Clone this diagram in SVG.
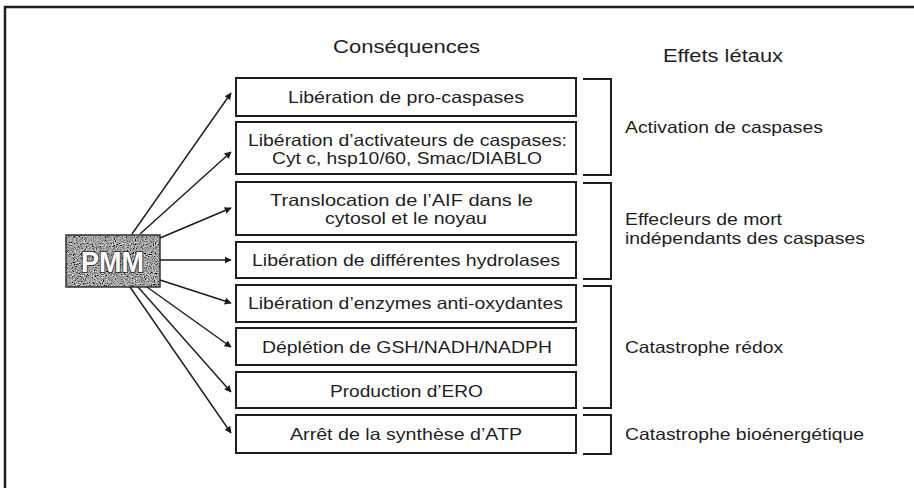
<svg xmlns="http://www.w3.org/2000/svg" width="914" height="488" viewBox="0 0 914 488">
<style>
  text { font-family: "Liberation Sans", Arial, sans-serif; fill: #1e1e1e; }
  .h { font-size: 19px; }
  .t { font-size: 16.5px; }
  .box { fill: #ffffff; stroke: #1e1e1e; stroke-width: 2; }
  .br { fill: none; stroke: #1e1e1e; stroke-width: 2; }
  .arr { stroke: #1a1a1a; stroke-width: 1.4; fill: none; marker-end: url(#ah); }
  text.pmm { font-family: "Liberation Sans", "DejaVu Sans", Arial, sans-serif; font-size: 30px; font-weight: 700; fill: #ffffff; stroke: #3a3a3a; stroke-width: 2; paint-order: stroke; }
</style>
<defs>
  <marker id="ah" viewBox="0 0 10 10" refX="9" refY="5" markerWidth="7" markerHeight="7" markerUnits="userSpaceOnUse" orient="auto">
    <path d="M0,0 L10,5 L0,10 z" fill="#1a1a1a"/>
  </marker>
  <filter id="grain" x="0" y="0" width="100%" height="100%">
    <feTurbulence type="fractalNoise" baseFrequency="0.9" numOctaves="2" seed="4" result="n"/>
    <feColorMatrix in="n" type="saturate" values="0" result="g"/>
    <feComponentTransfer in="g" result="c">
      <feFuncR type="linear" slope="2" intercept="-0.65"/>
      <feFuncG type="linear" slope="2" intercept="-0.65"/>
      <feFuncB type="linear" slope="2" intercept="-0.65"/>
      <feFuncA type="table" tableValues="1 1"/>
    </feComponentTransfer>
    <feComposite in="c" in2="SourceGraphic" operator="in"/>
  </filter>
</defs>
<rect width="914" height="488" fill="#ffffff"/>
<rect x="5" y="7" width="930" height="510" fill="none" stroke="#1e1e1e" stroke-width="2.5"/>

<g id="headers">
  <text class="h" x="333" y="53" textLength="147" lengthAdjust="spacingAndGlyphs">Conséquences</text>
  <text class="h" x="663" y="62" textLength="120" lengthAdjust="spacingAndGlyphs">Effets létaux</text>
</g>

<g id="pmm">
  <rect x="66" y="235" width="94" height="52" fill="#6a6a6a" filter="url(#grain)"/>
  <rect x="66" y="235" width="94" height="52" fill="none" stroke="#333" stroke-width="1.5"/>
  <text class="pmm" x="81" y="272" textLength="63" lengthAdjust="spacingAndGlyphs">PMM</text>
</g>

<g id="box1"><rect class="box" x="236" y="78" width="340" height="38"/>
  <text class="t" x="288" y="103" textLength="236" lengthAdjust="spacingAndGlyphs">Libération de pro-caspases</text></g>
<g id="box2"><rect class="box" x="236" y="122" width="340" height="52"/>
  <text class="t" x="248" y="146" textLength="319" lengthAdjust="spacingAndGlyphs">Libération d’activateurs de caspases:</text>
  <text class="t" x="272" y="164" textLength="270" lengthAdjust="spacingAndGlyphs">Cyt c, hsp10/60, Smac/DIABLO</text></g>
<g id="box3"><rect class="box" x="236" y="182" width="340" height="53"/>
  <text class="t" x="270" y="206" textLength="263" lengthAdjust="spacingAndGlyphs">Translocation de l’AIF dans le</text>
  <text class="t" x="325" y="224" textLength="162" lengthAdjust="spacingAndGlyphs">cytosol et le noyau</text></g>
<g id="box4"><rect class="box" x="236" y="242" width="340" height="36"/>
  <text class="t" x="252" y="266" textLength="308" lengthAdjust="spacingAndGlyphs">Libération de différentes hydrolases</text></g>
<g id="box5"><rect class="box" x="236" y="285" width="340" height="37"/>
  <text class="t" x="248" y="309" textLength="315" lengthAdjust="spacingAndGlyphs">Libération d’enzymes anti-oxydantes</text></g>
<g id="box6"><rect class="box" x="236" y="328" width="340" height="37"/>
  <text class="t" x="262" y="353" textLength="290" lengthAdjust="spacingAndGlyphs">Déplétion de GSH/NADH/NADPH</text></g>
<g id="box7"><rect class="box" x="236" y="372" width="340" height="36"/>
  <text class="t" x="330" y="397" textLength="153" lengthAdjust="spacingAndGlyphs">Production d’ERO</text></g>
<g id="box8"><rect class="box" x="236" y="415" width="340" height="38"/>
  <text class="t" x="290" y="440" textLength="232" lengthAdjust="spacingAndGlyphs">Arrêt de la synthèse d’ATP</text></g>

<g id="brackets">
  <path class="br" d="M583,79 H611 V175 H583"/>
  <path class="br" d="M583,183 H611 V279 H583"/>
  <path class="br" d="M583,286 H611 V408 H583"/>
  <path class="br" d="M583,415 H611 V454 H583"/>
</g>

<g id="effects">
  <text class="t" x="625" y="133" textLength="198" lengthAdjust="spacingAndGlyphs">Activation de caspases</text>
  <text class="t" x="625" y="225" textLength="157" lengthAdjust="spacingAndGlyphs">Effecleurs de mort</text>
  <text class="t" x="625" y="244" textLength="240" lengthAdjust="spacingAndGlyphs">indépendants des caspases</text>
  <text class="t" x="625" y="353" textLength="158" lengthAdjust="spacingAndGlyphs">Catastrophe rédox</text>
  <text class="t" x="625" y="440" textLength="239" lengthAdjust="spacingAndGlyphs">Catastrophe bioénergétique</text>
</g>

<g id="connectors">
  <line class="arr" x1="132" y1="234" x2="231" y2="93"/>
  <line class="arr" x1="140" y1="234" x2="231" y2="152"/>
  <line class="arr" x1="160" y1="238" x2="231" y2="208"/>
  <line class="arr" x1="160" y1="260" x2="231" y2="260"/>
  <line class="arr" x1="160" y1="280" x2="231" y2="303"/>
  <line class="arr" x1="147" y1="287" x2="231" y2="347"/>
  <line class="arr" x1="138" y1="287" x2="231" y2="392"/>
  <line class="arr" x1="130" y1="287" x2="231" y2="433"/>
</g>
</svg>
